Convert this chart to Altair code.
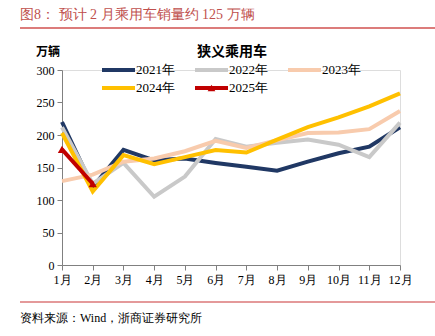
import altair as alt
import pandas as pd

months = ["1月", "2月", "3月", "4月", "5月", "6月", "7月", "8月", "9月", "10月", "11月", "12月"]
series_names = ["2021年", "2022年", "2023年", "2024年", "2025年"]
v2021 = [220, 120, 177, 161, 164, 157, 151, 145, 159, 172, 182, 212]
v2022 = [212, 125, 157, 105, 136, 194, 182, 188, 193, 185, 166, 219]
v2023 = [129, 139, 159, 164, 175, 191, 180, 192, 203, 204, 209, 237]
v2024 = [203, 113, 169, 155, 166, 177, 173, 193, 212, 227, 244, 264]
v2025 = [178, 125]
colors = ["#203864", "#c9c9c9", "#f8cbad", "#ffc000", "#c00000"]
y_ticks = [0, 50, 100, 150, 200, 250, 300]

title_text = "图8：  预计 2 月乘用车销量约 125 万辆"
chart_title = "狭义乘用车"
unit_text = "万辆"
source_text = "资料来源：Wind，浙商证券研究所"

FONT = "Liberation Serif"
CJK = "Noto Sans CJK SC"

rows = []
for name, vals in zip(series_names, [v2021, v2022, v2023, v2024, v2025]):
    for i, (m, v) in enumerate(zip(months, vals)):
        rows.append({"month": m, "idx": i, "series": name, "value": v})
df = pd.DataFrame(rows)

W, H = 338, 195

xenc = alt.X("month:N", sort=months, scale=alt.Scale(domain=months, type="point", padding=0),
             axis=alt.Axis(title=None, labelAngle=0, labelFont=FONT, labelFontSize=12, labelColor="#000",
                           domainColor="#808080", tickColor="#808080", tickSize=5, labelPadding=4,
                           grid=False))
yenc = alt.Y("value:Q", scale=alt.Scale(domain=[0, 300], nice=False),
             axis=alt.Axis(title=None, values=y_ticks, labelFont=FONT,
                           labelFontSize=12, labelColor="#000", domainColor="#808080",
                           tickColor="#808080", tickSize=5, labelPadding=3, grid=False,
                           labelOverlap=False, labelSeparation=0, labelBound=False,
                           labelFlush=False))
color = alt.Color("series:N", scale=alt.Scale(domain=series_names, range=colors), legend=None)

lines = alt.Chart(df).mark_line(strokeWidth=4).encode(x=xenc, y=yenc, color=color,
                                                       order=alt.Order("idx:Q"))
pts = alt.Chart(df[df.series == "2025年"]).mark_point(shape="triangle-up", filled=True, size=70,
                                                     color="#c00000", opacity=1).encode(
    x=xenc, y=yenc)

def txt(t, x, y, size, font, color="#000", weight="normal", align="left"):
    return alt.Chart(pd.DataFrame({"t": [t]})).mark_text(
        align=align, baseline="middle", fontSize=size, font=font, color=color, fontWeight=weight
    ).encode(text="t:N", x=alt.value(x), y=alt.value(y))

# manual legend: 3 columns, 2 rows
legend_layers = []
col_x = [40, 133, 226]
row_y = [0, 18]
for k, (name, c) in enumerate(zip(series_names, colors)):
    cx, ry = col_x[k % 3], row_y[k // 3]
    legend_layers.append(
        alt.Chart(pd.DataFrame({"s": [name]})).mark_rule(color=c, strokeWidth=4).encode(
            x=alt.value(cx), x2=alt.value(cx + 33), y=alt.value(ry)))
    legend_layers.append(txt(name, cx + 34, ry, 13, FONT))
    if name == "2025年":
        legend_layers.append(
            alt.Chart(pd.DataFrame({"s": [name]})).mark_point(
                shape="triangle-up", filled=True, size=60, color=c, opacity=1).encode(
                x=alt.value(cx + 16.5), y=alt.value(ry)))

title = txt(title_text, -42, -55, 14, FONT, color="#c0504d")
unit = txt(unit_text, -26, -18, 12, CJK, weight="bold")
ctitle = txt(chart_title, 170, -18, 14, CJK, weight="bold", align="center")
source = txt(source_text, -42, 248, 12, FONT)

rule_top = alt.Chart(pd.DataFrame({"a": [0]})).mark_rule(color="#d0504f", strokeWidth=1.5).encode(
    x=alt.value(-42), x2=alt.value(373), y=alt.value(-42))
rule_bot = alt.Chart(pd.DataFrame({"a": [0]})).mark_rule(color="#e4999a", strokeWidth=2).encode(
    x=alt.value(-42), x2=alt.value(373), y=alt.value(232))

chart = alt.layer(lines, pts, title, unit, ctitle, source, rule_top, rule_bot, *legend_layers).properties(
    width=W, height=H,
    autosize=alt.AutoSizeParams(type="none"),
    padding={"left": 62, "top": 70, "right": 35, "bottom": 71},
).configure_view(stroke=None).configure(background="white")

chart.save("out.html", embed_options={"renderer": "svg", "actions": False})
